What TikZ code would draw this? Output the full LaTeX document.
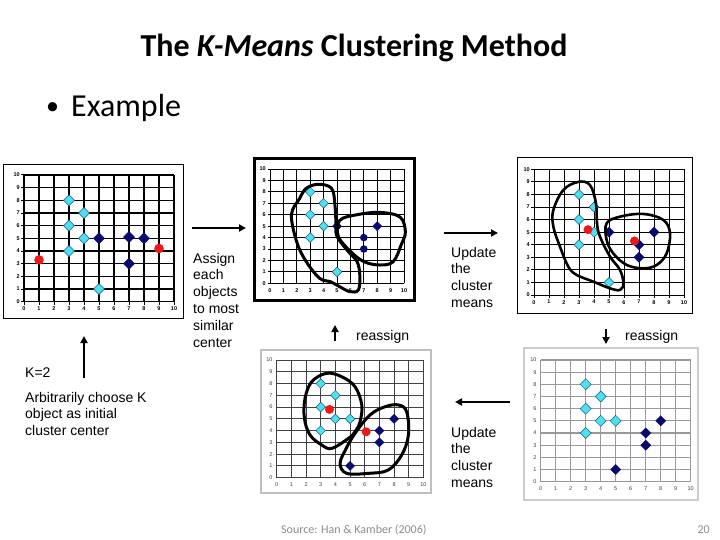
\documentclass[tikz,border=0pt]{standalone}
\usepackage{fontspec}
\setmainfont{Carlito}
\newfontfamily\arialf{Liberation Sans}
\usetikzlibrary{arrows.meta}
\definecolor{cyfill}{RGB}{80,222,242}
\definecolor{cyedge}{RGB}{20,90,120}
\definecolor{navyd}{RGB}{10,10,110}
\definecolor{reddot}{RGB}{235,25,25}
\definecolor{srcgray}{RGB}{140,140,140}
\newcommand\dmd[3]{\path[#1] #2 ++(-#3,0pt) -- ++(#3,#3) -- ++(#3,-#3) -- ++(-#3,-#3) -- cycle;}
\newcommand\kgrid[3]{%
  \foreach \i in {0,...,10} {
    \draw[#2] (\i,0) -- (\i,10);
    \draw[#2] (0,\i) -- (10,\i);
    \node[#3, below=5pt] (#1x\i) at (\i,0) {\i};
    \node[#3, left=4pt] (#1y\i) at (0,\i) {\i};
  }%
}
\begin{document}
\begin{tikzpicture}[x=1pt,y=-1pt,
  lab/.style={font=\arialf\fontsize{14}{16.8}\selectfont, inner sep=0pt, anchor=base west},
  ticklab/.style={font=\arialf\bfseries\fontsize{5.5}{5.5}\selectfont, inner sep=0pt},
  ticklight/.style={font=\arialf\fontsize{5.5}{5.5}\selectfont, inner sep=0pt, text=black!75},
  flow/.style={line width=2.5pt, -{Triangle[length=7pt,width=7pt]}},
  blob/.style={line width=3pt, line join=round},
  cy/.style={fill=cyfill, draw=cyedge, line width=0.5pt},
  nv/.style={fill=navyd, draw=navyd, line width=0.5pt},
  ]
\useasboundingbox (0,0) rectangle (720,540);
\fill[white] (0,0) rectangle (720,540);

% title
\node[font=\bfseries\fontsize{32}{36}\selectfont, inner sep=0pt, anchor=base] (title) at (354,57) {The \textit{K-Means} Clustering Method};
\node[font=\fontsize{26}{30}\selectfont, inner sep=0pt, anchor=base west] (bul) at (46,115) {\textbullet};
\node[font=\fontsize{32}{36}\selectfont, inner sep=0pt, anchor=base west] (ex) at (71,117) {Example};

% ---------- plot 1 ----------
\draw[line width=1pt] (3,165) rectangle (183,318);
\begin{scope}[shift={(24pt,-301.7pt)}, x=15pt, y=12.67pt]
  \kgrid{pa}{line width=1.2pt}{ticklab}
  \foreach \i in {0,...,10} {\draw[line width=1pt] (\i,0) -- ++(0,-3pt); \draw[line width=1pt] (0,\i) -- ++(-3pt,0);}
  \foreach \p in {(3,8),(4,7),(3,6),(4,5),(3,4),(5,1)} {\dmd{cy}{\p}{5.5pt}}
  \foreach \p in {(5,5),(7,5.1),(8,5),(7,3)} {\dmd{nv}{\p}{5.5pt}}
  \fill[reddot] (1,3.3) circle (4.8pt);
  \fill[reddot] (9,4.2) circle (4.8pt);
\end{scope}

% ---------- plot 2 ----------
\draw[line width=3.5pt] (254.7,158.7) rectangle (414.3,300.3);
\begin{scope}[shift={(270pt,-283.3pt)}, x=13.4pt, y=11.43pt]
  \kgrid{pb}{line width=0.9pt}{ticklab}
  \foreach \i in {0,...,10} {\draw[line width=0.8pt] (0,\i) -- ++(-2.5pt,0);}
  \foreach \p in {(3,8),(4,7),(3,6),(4,5),(3,4),(5,1)} {\dmd{cy}{\p}{4.8pt}}
  \foreach \p in {(5,5),(8,5)} {\dmd{nv}{\p}{4.5pt}}
  \fill[navyd] (7,4) circle (3.8pt);
  \fill[navyd] (7,3) circle (3.8pt);
  \draw[blob] plot[smooth cycle, tension=0.6] coordinates {(3.6,8.66) (4.6,8.3) (4.85,6.8) (4.93,5.1) (5.0,4.1) (5.85,2.77) (6.5,1.9) (6.7,0.73) (6.6,-0.58) (5.97,-0.73) (5.2,-0.3) (4.5,0.15) (3.7,0.44) (2.7,1.9) (2.0,3.6) (1.6,6.0) (2.2,7.4) (2.7,8.3)};
  \draw[blob] plot[smooth cycle, tension=0.6] coordinates {(5.2,5.5) (6.5,6.0) (8.2,6.2) (9.7,5.8) (10.1,4.5) (9.8,3.4) (9.2,1.9) (8.2,1.6) (7.0,1.9) (6.0,2.8) (5.1,4.1)};
\end{scope}

% ---------- plot 3 ----------
\draw[line width=1pt] (517,158) rectangle (692,313);
\begin{scope}[shift={(534pt,-295pt)}, x=15pt, y=12.57pt]
  \kgrid{pc}{line width=1pt}{ticklab}
  \foreach \i in {0,...,10} {\draw[line width=1pt] (\i,0) -- ++(0,-3pt); \draw[line width=1pt] (0,\i) -- ++(-3pt,0);}
  \foreach \p in {(3,8),(4,7),(3,6),(4,5),(3,4),(5,1)} {\dmd{cy}{\p}{5pt}}
  \foreach \p in {(5,5),(8,5),(7,4),(7,3)} {\dmd{nv}{\p}{5pt}}
  \fill[reddot] (3.6,5.2) circle (4.5pt);
  \fill[reddot] (6.7,4.3) circle (4.5pt);
  \draw[blob, line width=2.6pt] plot[smooth cycle, tension=0.6] coordinates {(2.96,9.0) (3.73,8.75) (4.13,7.3) (4.2,5.7) (4.4,4.64) (5.07,3.05) (5.73,2.0) (5.96,0.93) (5.73,0.4) (5.07,0.53) (3.96,1.06) (2.84,1.6) (2.29,2.25) (1.73,3.85) (1.29,5.44) (1.29,6.76) (1.96,8.36)};
  \draw[blob, line width=2.6pt] plot[smooth cycle, tension=0.6] coordinates {(4.84,5.7) (5.73,6.23) (7.29,6.45) (8.62,5.97) (9.07,4.9) (8.84,3.3) (8.18,2.39) (7.29,2.12) (6.18,2.39) (5.29,3.3) (4.84,4.38)};
\end{scope}

% ---------- plot 4 ----------
\draw[line width=2pt, black!25] (261,350) rectangle (431,493);
\begin{scope}[shift={(276.7pt,-477.7pt)}, x=14.67pt, y=11.77pt]
  \kgrid{pd}{line width=0.9pt, black!75}{ticklight}
  \foreach \p in {(3,8),(4,7),(3,6),(4,5),(5,5),(3,4)} {\dmd{cy}{\p}{4.8pt}}
  \foreach \p in {(8,5),(7,4),(7,3),(5,1)} {\dmd{nv}{\p}{4.5pt}}
  \fill[reddot] (3.6,5.8) circle (4.5pt);
  \fill[reddot] (6.1,3.9) circle (4.5pt);
  \draw[blob] plot[smooth cycle, tension=0.6] coordinates {(3.4,8.87) (4.43,8.58) (5.34,7.73) (5.8,6.18) (5.68,4.76) (5.34,3.9) (4.89,3.34) (3.75,2.49) (3.07,2.78) (2.27,3.63) (1.89,5.04) (1.93,6.74) (2.39,8.16)};
  \draw[blob] plot[smooth cycle, tension=0.6] coordinates {(5.34,3.77) (6.36,5.33) (7.39,6.03) (8.3,6.18) (8.86,5.6) (8.98,3.63) (8.52,1.93) (7.6,0.65) (6.25,0.37) (4.77,0.37) (4.32,1.2) (4.7,2.4)};
\end{scope}

% ---------- plot 5 ----------
\draw[line width=2pt, black!20] (524,348) rectangle (698,500);
\begin{scope}[shift={(540.7pt,-481.7pt)}, x=15pt, y=12.17pt]
  \kgrid{pe}{line width=1.1pt, black!40}{ticklight}
  \foreach \p in {(3,8),(4,7),(3,6),(4,5),(5,5),(3,4)} {\dmd{cy}{\p}{5.5pt}}
  \foreach \p in {(8,5),(7,4),(7,3),(5,1)} {\dmd{nv}{\p}{5pt}}
\end{scope}

% ---------- arrows ----------
\coordinate (a1s) at (192,228); \coordinate (a1e) at (246,228);
\coordinate (a2s) at (444,233); \coordinate (a2e) at (498,233);
\coordinate (a3s) at (606,329); \coordinate (a3e) at (606,344);
\coordinate (a4s) at (510,402); \coordinate (a4e) at (455,402);
\coordinate (a5s) at (335,341); \coordinate (a5e) at (335,325);
\coordinate (a6s) at (84,378);  \coordinate (a6e) at (84,336);
\draw[flow, line width=2pt] (a1s) -- (a1e);
\draw[flow, line width=2pt] (a2s) -- (a2e);
\draw[flow] (a3s) -- (a3e);
\draw[flow] (a4s) -- (a4e);
\draw[flow] (a5s) -- (a5e);
\draw[flow] (a6s) -- (a6e);

% ---------- labels ----------
\foreach \t [count=\k] in {Assign,each,objects,to most,similar,center}
  {\node[lab] (as\k) at (193,{263+(\k-1)*16.8}) {\t};}
\foreach \t [count=\k] in {Update,the,cluster,means}
  {\node[lab] (up\k) at (451,{257+(\k-1)*16.8}) {\t};}
\foreach \t [count=\k] in {Update,the,cluster,means}
  {\node[lab] (ub\k) at (451,{437+(\k-1)*16.8}) {\t};}
\node[lab] (re1) at (356,340) {reassign};
\node[lab] (re2) at (625,340) {reassign};
\node[lab] (k2) at (25,377) {K=2};
\foreach \t [count=\k] in {Arbitrarily choose K,object as initial,cluster center}
  {\node[lab] (ar\k) at (25,{402+(\k-1)*16.8}) {\t};}

\node[font=\fontsize{12}{14}\selectfont, text=srcgray, inner sep=0pt, anchor=base west] (src) at (281,533) {Source: Han \& Kamber (2006)};
\node[font=\fontsize{12}{14}\selectfont, text=srcgray, inner sep=0pt, anchor=base east] (pg) at (710,533) {20};
\end{tikzpicture}
\end{document}
